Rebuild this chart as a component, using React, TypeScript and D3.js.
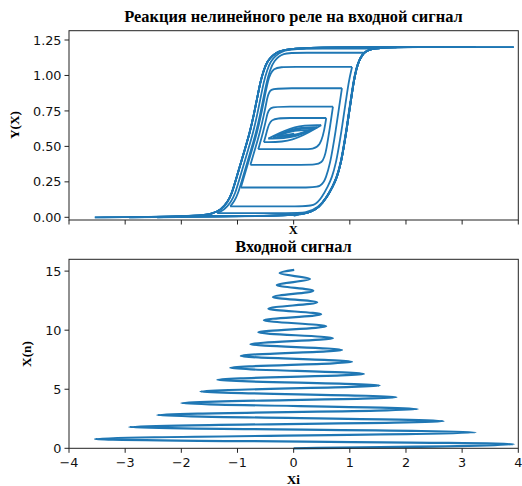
import React from 'react';
import * as d3 from 'd3';

// ---- Input signal (bottom chart): turning points ----
const inputN = [0, 0.34, 0.79, 1.35, 1.8, 2.3, 2.81, 3.32, 3.83, 4.33, 4.81, 5.32, 5.8, 6.3, 6.81, 7.32, 7.82, 8.33, 8.81, 9.32, 9.82, 10.33, 10.84, 11.34, 11.82, 12.36, 12.8, 13.34, 13.82, 14.33, 14.83, 15.1];
const inputX = [0, 3.92, -3.54, 3.24, -2.93, 2.67, -2.43, 2.21, -2.0, 1.83, -1.66, 1.53, -1.36, 1.25, -1.13, 1.04, -0.94, 0.86, -0.77, 0.7, -0.63, 0.58, -0.53, 0.49, -0.45, 0.42, -0.37, 0.35, -0.3, 0.29, -0.25, 0.01];

// ---- Relay output level at each turning point (top chart) ----
const responseY = [0.01, 1.2, 0.0, 1.2, 0.0, 1.2, 0.0, 1.2, 0.0074, 1.198, 0.01, 1.19, 0.03, 1.16, 0.077, 1.06, 0.21, 0.91, 0.37, 0.78, 0.48, 0.7, 0.53, 0.65, 0.555, 0.635, 0.565, 0.625, 0.575, 0.615, 0.58, 0.59];

// ---- Outer (major loop) branches of the relay ----
const riseX = [-3.54, -2.0, -1.0, -0.3, 0.1, 0.3, 0.45, 0.59, 0.7, 0.77, 0.84, 0.89, 0.94, 0.98, 1.03, 1.07, 1.12, 1.16, 1.22, 1.28, 1.4, 1.6, 2.0, 3.92];
const riseY = [0, 0.001, 0.004, 0.01, 0.02, 0.035, 0.07, 0.14, 0.22, 0.28, 0.38, 0.49, 0.61, 0.72, 0.85, 0.96, 1.05, 1.1, 1.145, 1.17, 1.19, 1.198, 1.2, 1.2];
const fallX = [3.92, 2.0, 0.6, 0.3, 0.03, -0.15, -0.27, -0.38, -0.47, -0.53, -0.59, -0.65, -0.71, -0.78, -0.86, -0.95, -1.04, -1.1, -1.17, -1.3, -1.45, -1.7, -2.5, -3.54];
const fallY = [1.2, 1.2, 1.199, 1.195, 1.19, 1.18, 1.17, 1.14, 1.1, 1.04, 0.96, 0.84, 0.72, 0.6, 0.49, 0.37, 0.25, 0.17, 0.11, 0.05, 0.025, 0.01, 0.003, 0];

// ---- Ticks ----
const xTicks = [-4, -3, -2, -1, 0, 1, 2, 3, 4];
const topYTicks = [0, 0.25, 0.5, 0.75, 1.0, 1.25];
const bottomYTicks = [0, 5, 10, 15];

const title1 = 'Реакция нелинейного реле на входной сигнал';
const title2 = 'Входной сигнал';

const W = 522;
const H = 486;
const L0 = 69;
const R0 = 518.3;
const T1 = 30.7;
const B1 = 220;
const T2 = 259.3;
const B2 = 448.3;
const BLUE = '#1f77b4';
const serif = '"Liberation Serif", "Times New Roman", serif';
const sans = '"DejaVu Sans", sans-serif';

function invRise(y: number): number {
  for (let i = 0; i < riseY.length; i++) {
    if (riseY[i] >= y) {
      if (i === 0) return riseX[0];
      const t = (y - riseY[i - 1]) / (riseY[i] - riseY[i - 1]);
      return riseX[i - 1] + t * (riseX[i] - riseX[i - 1]);
    }
  }
  return riseX[riseX.length - 1];
}
function invFall(y: number): number {
  for (let i = 0; i < fallY.length; i++) {
    if (fallY[i] < y) {
      if (i === 0) return fallX[0];
      const t = (fallY[i - 1] - y) / (fallY[i - 1] - fallY[i]);
      return fallX[i - 1] + t * (fallX[i] - fallX[i - 1]);
    }
  }
  return fallX[fallX.length - 1];
}

type P = [number, number];

const GUARD = 0.28;
const SKIP_Y = 0.06;
const SKIP_X = 0.1;

function halfCycle(a: number, y0: number, b: number, y1: number): P[] {
  const D = Math.abs(b - a);
  const dy = Math.abs(y1 - y0);
  if (b > a) {
    if (dy < 0.125) return [[a, y0], [b - 0.5 * D, y0], [b, y1]];
    const eps = y1 < 1.18 ? Math.max(0, invRise(y1) - b) : 0;
    const xc = invRise(y0) - eps;
    const pts: P[] = [[a, y0]];
    if (xc - GUARD > a) pts.push([xc - GUARD, y0]);
    if (xc > a) pts.push([xc, y0]);
    riseX.forEach((rx0, k) => {
      const rx = rx0 - eps;
      const ry = riseY[k];
      const nearCorner = ry - y0 < SKIP_Y && rx - xc < SKIP_X;
      if (ry > y0 + 0.004 && !nearCorner && ry <= y1 && rx > xc && rx > a && rx < b - 0.04) pts.push([rx, ry]);
    });
    pts.push([b, y1]);
    return pts;
  } else {
    if (dy < 0.125) return [[a, y0], [b + 0.5 * D, y0], [b, y1]];
    const del = y1 > 0.02 ? Math.max(0, b - invFall(y1)) : 0;
    const xc = invFall(y0) + del;
    const pts: P[] = [[a, y0]];
    if (xc + GUARD < a) pts.push([xc + GUARD, y0]);
    if (xc < a) pts.push([xc, y0]);
    fallX.forEach((fx0, k) => {
      const fx = fx0 + del;
      const fy = fallY[k];
      const nearCorner = y0 - fy < SKIP_Y && xc - fx < SKIP_X;
      if (fy < y0 - 0.0005 && !nearCorner && fy >= y1 && fx < xc && fx < a && fx > b + 0.04) pts.push([fx, fy]);
    });
    pts.push([b, y1]);
    return pts;
  }
}

export default function App() {
  const x = d3.scaleLinear().domain([-4, 4]).range([L0, R0]);
  const yTop = d3.scaleLinear().domain([-0.019, 1.3156]).range([B1, T1]);
  const yBot = d3.scaleLinear().domain([0, 16]).range([B2, T2]);

  const halves: P[][] = [];
  for (let i = 0; i < inputX.length - 1; i++) {
    halves.push(halfCycle(inputX[i], responseY[i], inputX[i + 1], responseY[i + 1]));
  }
  const topLine = d3
    .line<P>()
    .x((d) => x(d[0]))
    .y((d) => yTop(d[1]))
    .curve(d3.curveBasis);

  const inputPts: P[] = inputX.map((v, i) => [v, inputN[i]]);
  const botLine = d3
    .line<P>()
    .x((d) => x(d[0]))
    .y((d) => yBot(d[1]))
    .curve(d3.curveMonotoneY);

  const tickLen = 4.5;
  const fmtMinus = (v: number) => (v < 0 ? '\u2212' + Math.abs(v) : String(v));

  return (
    <svg width={W} height={H} style={{ position: 'absolute', left: 0, top: 0, background: '#fff' }}>
      <rect x={0} y={0} width={W} height={H} fill="#fff" />
      {/* Top chart */}
      <text x={293.5} y={21.5} textAnchor="middle" fontFamily={serif} fontWeight="bold" fontSize={16.4}>
        {title1}
      </text>
      <g>
        {halves.map((h, i) => (
          <path key={i} d={topLine(h) || ''} fill="none" stroke={BLUE} strokeWidth={1.8} strokeLinejoin="round" />
        ))}
      </g>
      <rect x={L0} y={T1} width={R0 - L0} height={B1 - T1} fill="none" stroke="#222" strokeWidth={1} />
      {xTicks.map((t) => (
        <line key={'tx' + t} x1={x(t)} x2={x(t)} y1={B1} y2={B1 + tickLen} stroke="#222" strokeWidth={1} />
      ))}
      {topYTicks.map((t, i) => (
        <g key={'ty' + i}>
          <line x1={L0 - tickLen} x2={L0} y1={yTop(t)} y2={yTop(t)} stroke="#222" strokeWidth={1} />
          <text x={L0 - tickLen - 3} y={yTop(t)} dy="0.36em" textAnchor="end" fontFamily={sans} fontSize={12.8} fill="#111">
            {t.toFixed(2)}
          </text>
        </g>
      ))}
      <text x={293.3} y={233.5} textAnchor="middle" fontFamily={serif} fontWeight="bold" fontSize={12.5}>
        X
      </text>
      <text transform={`translate(19,125) rotate(-90)`} textAnchor="middle" fontFamily={serif} fontWeight="bold" fontSize={13.3}>
        Y(X)
      </text>

      {/* Bottom chart */}
      <text x={293.5} y={251.5} textAnchor="middle" fontFamily={serif} fontWeight="bold" fontSize={16.4}>
        {title2}
      </text>
      <path d={botLine(inputPts) || ''} fill="none" stroke={BLUE} strokeWidth={2.2} strokeLinejoin="round" />
      <rect x={L0} y={T2} width={R0 - L0} height={B2 - T2} fill="none" stroke="#222" strokeWidth={1} />
      {xTicks.map((t) => (
        <g key={'bx' + t}>
          <line x1={x(t)} x2={x(t)} y1={B2} y2={B2 + tickLen} stroke="#222" strokeWidth={1} />
          <text x={x(t)} y={B2 + tickLen + 14} textAnchor="middle" fontFamily={sans} fontSize={12.8} fill="#111">
            {fmtMinus(t)}
          </text>
        </g>
      ))}
      {bottomYTicks.map((t) => (
        <g key={'by' + t}>
          <line x1={L0 - tickLen} x2={L0} y1={yBot(t)} y2={yBot(t)} stroke="#222" strokeWidth={1} />
          <text x={L0 - tickLen - 3} y={yBot(t)} dy="0.36em" textAnchor="end" fontFamily={sans} fontSize={12.8} fill="#111">
            {t}
          </text>
        </g>
      ))}
      <text x={293.3} y={484} textAnchor="middle" fontFamily={serif} fontWeight="bold" fontSize={13.3}>
        Xi
      </text>
      <text transform={`translate(31,354) rotate(-90)`} textAnchor="middle" fontFamily={serif} fontWeight="bold" fontSize={13.3}>
        X(n)
      </text>
    </svg>
  );
}
